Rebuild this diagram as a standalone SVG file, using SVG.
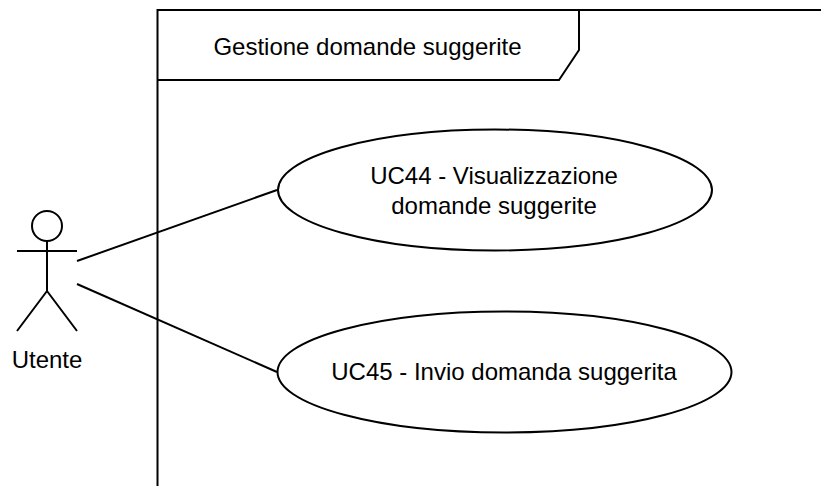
<svg xmlns="http://www.w3.org/2000/svg" width="821" height="486" viewBox="0 0 821 486">
<style>
.s{fill:none;stroke:#000;stroke-width:2}
.e{fill:#fff;stroke:#000;stroke-width:2}
text{font-family:"Liberation Sans",Arial,sans-serif;font-size:24px;fill:#000;text-anchor:middle}
</style>
<rect width="821" height="486" fill="#fff"/>
<g id="frame">
<path class="s" d="M157.500 486V10H821"/>
<path class="s" d="M157.500 80H559L579 50V10"/>
<text x="367.500" y="55">Gestione domande suggerite</text>
</g>
<g id="connectors">
<path class="s" d="M77 261L277 190"/>
<path class="s" d="M77 284L277 372"/>
</g>
<g id="actor">
<circle class="s" cx="47" cy="226" r="15"/>
<path class="s" d="M47 241V291M17 251H77M47 291L17 331M47 291L77 331"/>
<text x="47" y="368">Utente</text>
</g>
<g id="uc44">
<ellipse class="e" cx="495" cy="190" rx="217" ry="60.500"/>
<text x="494" y="184">UC44 - Visualizzazione</text>
<text x="494" y="214">domande suggerite</text>
</g>
<g id="uc45">
<ellipse class="e" cx="504.500" cy="372" rx="227" ry="60.500"/>
<text x="504" y="380">UC45 - Invio domanda suggerita</text>
</g>
</svg>
